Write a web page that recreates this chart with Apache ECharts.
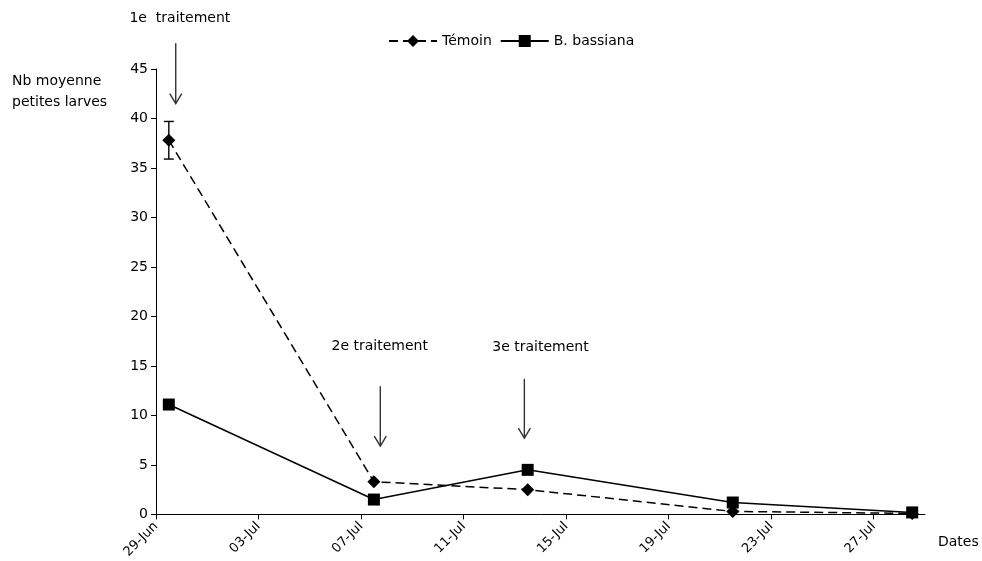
<!DOCTYPE html>
<html>
<head>
<meta charset="utf-8">
<script src="https://cdn.jsdelivr.net/npm/echarts@6/dist/echarts.min.js"></script>
<style>
  html, body { margin: 0; padding: 0; background: #ffffff; }
  #chart { width: 982px; height: 561px; }
</style>
</head>
<body>
<div id="chart"></div>
<script>
// Tick labels along the date axis (one every 4 days from 29-Jun)
const tickLabels = ['29-Jun', '03-Jul', '07-Jul', '11-Jul', '15-Jul', '19-Jul', '23-Jul', '27-Jul'];
// Sampling dates
const sampleDates = ['29-Jun', '07-Jul', '13-Jul', '21-Jul', '28-Jul'];
// Mean number of small larvae
const temoin = [37.8, 3.3, 2.5, 0.3, 0.1];
const temoinErr = [1.9, 0, 0, 0, 0];
const bassiana = [11.1, 1.5, 4.5, 1.2, 0.2];
// Treatment annotations: arrow day, arrow top / tip (y units), label anchor
const treatments = [
  { text: '1e  traitement', day: 0.77, top: 47.6, tip: 41.5, textDay: 0.93, textY: 50.1 },
  { text: '2e traitement', day: 8.75, top: 12.95, tip: 6.9, textDay: 8.73, textY: 16.95 },
  { text: '3e traitement', day: 14.37, top: 13.7, tip: 7.7, textDay: 15.0, textY: 16.85 }
];

const MONTHS = { Jan: 0, Feb: 1, Mar: 2, Apr: 3, May: 4, Jun: 5, Jul: 6, Aug: 7, Sep: 8, Oct: 9, Nov: 10, Dec: 11 };
function dayNumber(label) {
  const [d, m] = label.split('-');
  return Date.UTC(2000, MONTHS[m], +d) / 86400000;
}
const origin = dayNumber(tickLabels[0]);
// each sample sits in the middle of its day
const sampleX = sampleDates.map(s => dayNumber(s) - origin + 0.5);
const tickValues = tickLabels.map(t => dayNumber(t) - origin);

const FONT = 'DejaVu Sans';

const chart = echarts.init(document.getElementById('chart'), null, { renderer: 'canvas' });

chart.setOption({
  backgroundColor: '#ffffff',
  animation: false,
  textStyle: { fontFamily: FONT, color: '#000' },
  grid: { left: 156, right: 57, top: 69, bottom: 46, containLabel: false },
  legend: {
    left: 383, top: 29,
    itemWidth: 48, itemHeight: 15, itemGap: 8,
    textStyle: { fontFamily: FONT, fontSize: 14, color: '#000' },
    data: ['Témoin', 'B. bassiana']
  },
  xAxis: {
    type: 'value',
    min: 0, max: 30, interval: 4,
    splitLine: { show: false },
    axisLine: { lineStyle: { color: '#000', width: 1 } },
    axisTick: { show: true, length: 5, inside: false, customValues: tickValues, lineStyle: { color: '#000' } },
    axisLabel: {
      rotate: 45, margin: 10, fontSize: 13, fontFamily: FONT, color: '#000',
      customValues: tickValues,
      formatter: v => tickLabels[tickValues.indexOf(v)] || ''
    }
  },
  yAxis: {
    type: 'value',
    min: 0, max: 45, interval: 5,
    splitLine: { show: false },
    axisLine: { show: true, lineStyle: { color: '#000', width: 1 } },
    axisTick: { show: true, length: 5, lineStyle: { color: '#000' } },
    axisLabel: { fontSize: 14, fontFamily: FONT, color: '#000', margin: 8 }
  },
  graphic: [
    {
      type: 'text', left: 12, top: 71,
      style: { text: 'Nb moyenne\npetites larves', font: '14px "DejaVu Sans"', fill: '#000', align: 'center', lineHeight: 21, x: 47 }
    },
    {
      type: 'text', left: 938, top: 535,
      style: { text: 'Dates', font: '14px "DejaVu Sans"', fill: '#000' }
    }
  ],
  series: [
    {
      name: 'Témoin',
      type: 'line',
      data: sampleX.map((x, i) => [x, temoin[i]]),
      symbol: 'diamond', symbolSize: 13,
      itemStyle: { color: '#000' },
      lineStyle: { color: '#000', width: 1.5, type: [9, 5] },
      z: 4
    },
    {
      name: 'B. bassiana',
      type: 'line',
      data: sampleX.map((x, i) => [x, bassiana[i]]),
      symbol: 'rect', symbolSize: 12,
      itemStyle: { color: '#000' },
      lineStyle: { color: '#000', width: 1.5 },
      z: 4
    },
    {
      name: 'errors',
      type: 'custom',
      z: 3,
      data: sampleX.map((x, i) => [x, temoin[i] - temoinErr[i], temoin[i] + temoinErr[i]]).filter((d, i) => temoinErr[i] > 0),
      renderItem: (params, api) => {
        const lo = api.coord([api.value(0), api.value(1)]);
        const hi = api.coord([api.value(0), api.value(2)]);
        const w = 5;
        const st = { stroke: '#000', lineWidth: 1.4 };
        return {
          type: 'group',
          children: [
            { type: 'line', shape: { x1: lo[0], y1: lo[1], x2: hi[0], y2: hi[1] }, style: st },
            { type: 'line', shape: { x1: lo[0] - w, y1: lo[1], x2: lo[0] + w, y2: lo[1] }, style: st },
            { type: 'line', shape: { x1: hi[0] - w, y1: hi[1], x2: hi[0] + w, y2: hi[1] }, style: st }
          ]
        };
      }
    },
    {
      name: 'treatments',
      type: 'custom',
      clip: false,
      z: 5,
      data: treatments.map(t => [t.day, t.top, t.tip, t.textDay, t.textY]),
      renderItem: (params, api) => {
        const t = treatments[params.dataIndex];
        const top = api.coord([api.value(0), api.value(1)]);
        const tip = api.coord([api.value(0), api.value(2)]);
        const lab = api.coord([api.value(3), api.value(4)]);
        const st = { stroke: '#333', lineWidth: 1.4, fill: null };
        return {
          type: 'group',
          children: [
            { type: 'line', shape: { x1: top[0], y1: top[1], x2: tip[0], y2: tip[1] }, style: st },
            { type: 'polyline', shape: { points: [[tip[0] - 6, tip[1] - 10], [tip[0], tip[1]], [tip[0] + 6, tip[1] - 10]] }, style: st },
            { type: 'text', x: lab[0], y: lab[1], style: { text: t.text, font: '14px "DejaVu Sans"', fill: '#000', align: 'center', verticalAlign: 'middle' } }
          ]
        };
      }
    }
  ]
});
</script>
</body>
</html>
